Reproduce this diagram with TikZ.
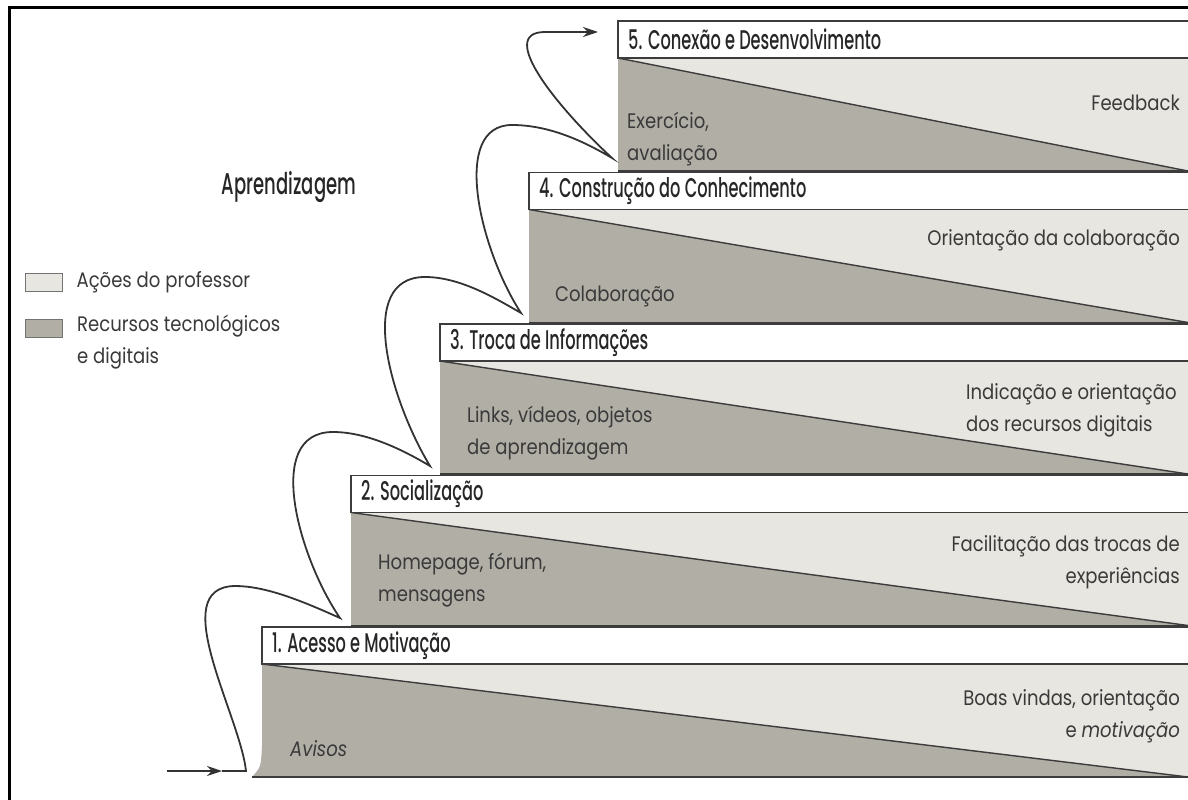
\documentclass[tikz,border=0pt]{standalone}
\usepackage{fontspec}
\setmainfont[FakeStretch=0.86]{Poppins}
\newfontfamily\titulofont[FakeStretch=0.6]{Poppins Medium}
\usetikzlibrary{positioning,arrows.meta}
\definecolor{claro}{HTML}{E8E6E0}
\definecolor{escuro}{HTML}{B1AEA6}
\definecolor{tinta}{HTML}{3A3A3A}
\definecolor{traco}{HTML}{3C3C3C}
\tikzset{
  titulo/.style={font=\titulofont\fontsize{27}{27}\selectfont, text=black!85, inner sep=0pt, anchor=west},
  texto/.style={font=\fontsize{21}{32}\selectfont, text=tinta, inner sep=0pt},
  contorno/.style={draw=traco, line width=1.4pt},
  curva/.style={draw=black!80, line width=1.8pt},
  caixa/.style={draw=black!55, line width=0.8pt, minimum width=37pt, minimum height=18pt, inner sep=0pt},
}
\begin{document}
\begin{tikzpicture}[x=1pt, y=-1pt, >={Stealth[length=15pt,width=10pt]}]
  \useasboundingbox (0,0) rectangle (1188,800);
  % moldura
  \draw[line width=3pt] (9,800) -- (9,7.5) -- (1188,7.5);
  % degraus (de baixo para cima)
  \foreach \k/\xe/\yt in {1/262/627, 2/351/475.5, 3/440/324, 4/529/172.5, 5/618/21} {
    \fill[claro] (\xe,\yt+37) rectangle (1188,\yt+150);
    \fill[escuro] (\xe,\yt+37) -- (1188,\yt+150) -- (\xe,\yt+150) -- cycle;
    \draw[contorno] (\xe,\yt+37) -- (1188,\yt+150);
    \draw[contorno] (\xe,\yt+150) -- (1188,\yt+150);
    \draw[contorno, fill=white] (1188,\yt) -- (\xe,\yt) -- (\xe,\yt+37) -- (1188,\yt+37);
  }
  % pe do primeiro degrau
  \fill[escuro] (262,664) -- (262,745) .. controls (261,767) .. (252,777) -- (262,777) -- cycle;
  \draw[contorno] (252,777) -- (262,777);

  % titulos dos degraus
  \node[titulo] (t1) at (272,645.5) {1. Acesso e Motivação};
  \node[titulo] (t2) at (361,494) {2. Socialização};
  \node[titulo] (t3) at (450,342.5) {3. Troca de Informações};
  \node[titulo] (t4) at (539,191) {4. Construção do Conhecimento};
  \node[titulo] (t5) at (628,39.5) {5. Conexão e Desenvolvimento};

  % acoes do professor (lado direito)
  \node[texto, anchor=east, align=right] (prof1) at (1180,716) {Boas vindas, orientação\\e \textit{motivação}};
  \node[texto, anchor=east, align=right] (prof2) at (1180,562) {Facilitação das trocas de\\experiências};
  \node[texto, anchor=west, align=left] (prof3) at (966,410) {Indicação e orientação\\dos recursos digitais};
  \node[texto, anchor=east] (prof4) at (1180,240) {Orientação da colaboração};
  \node[texto, anchor=east] (prof5) at (1180,103) {Feedback};

  % recursos tecnologicos (lado esquerdo)
  \node[texto, anchor=west] (rec1) at (290,749) {\textit{Avisos}};
  \node[texto, anchor=west, align=left] (rec2) at (378,580) {Homepage, fórum,\\mensagens};
  \node[texto, anchor=west, align=left] (rec3) at (467,433) {Links, vídeos, objetos\\de aprendizagem};
  \node[texto, anchor=west] (rec4) at (555,296) {Colaboração};
  \node[texto, anchor=west, align=left] (rec5) at (627,139) {Exercício,\\avaliação};

  % legenda
  \node[titulo, anchor=center, font=\titulofont\fontsize{30}{30}\selectfont] (aprend) at (289,187) {Aprendizagem};
  \node[caixa, fill=claro] (lclaro) at (43.5,282.5) {};
  \node[texto, right=14pt of lclaro] (lprof) {Ações do professor};
  \node[caixa, fill=escuro] (lescuro) at (43.5,328) {};
  \node[texto, anchor=north west, align=left] (lrec) at (77,315) {Recursos tecnológicos\\e digitais};

  % pontos da escada de setas
  \coordinate (ini) at (167,771);
  \coordinate (ponta) at (222,771);
  \coordinate (p1) at (246,771);
  \coordinate (p2) at (340,618);
  \coordinate (p3) at (430,466);
  \coordinate (p4) at (521,313);
  \coordinate (p5) at (612,158);
  \coordinate (fim) at (598,32);
  \draw[curva, ->] (ini) -- (ponta);
  \draw[curva, ->] (ponta) -- (p1)
    .. controls (240,715) and (165,587) .. (235,586)
    .. controls (265,586) and (300,600) .. (p2)
    .. controls (300,560) and (262,432) .. (333,432)
    .. controls (365,432) and (400,448) .. (p3)
    .. controls (390,400) and (355,277) .. (425,277)
    .. controls (460,277) and (495,298) .. (p4)
    .. controls (480,250) and (450,125) .. (512,125)
    .. controls (550,125) and (585,142) .. (p5)
    .. controls (560,110) and (495,32) .. (545,32)
    -- (fim);
\end{tikzpicture}
\end{document}
